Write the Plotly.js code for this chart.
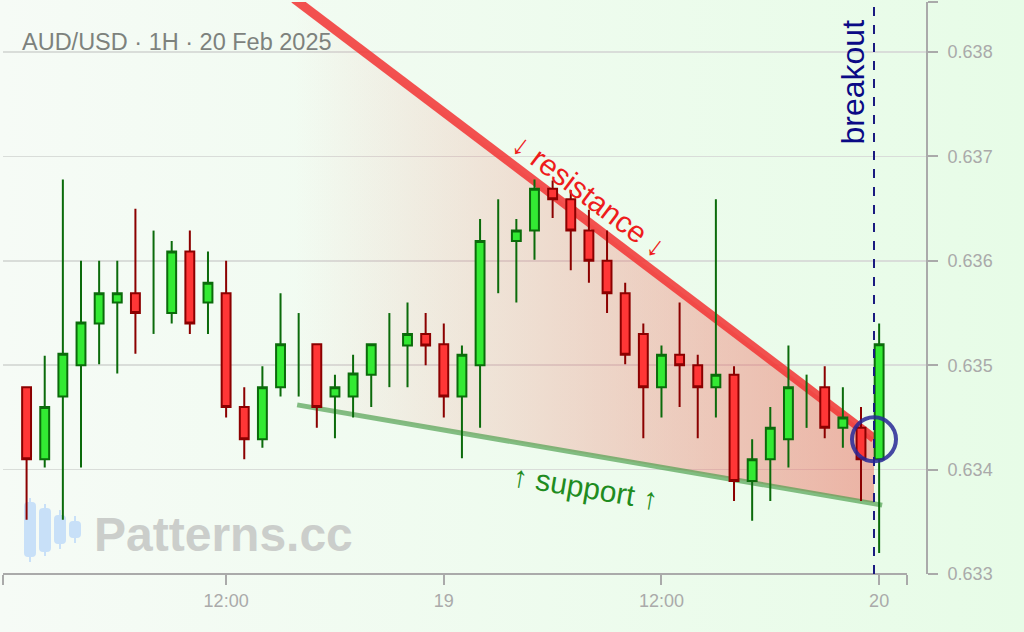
<!DOCTYPE html>
<html>
<head>
<meta charset="utf-8">
<script src="https://cdn.plot.ly/plotly-3.0.1.min.js"></script>
<style>html,body{margin:0;padding:0;background:#f2fbf2;}#chart{width:1024px;height:632px;}</style>
</head>
<body>
<div id="chart"></div>
<script>
// ---- data ----
const times = [
 '2025-02-18 01:00','2025-02-18 02:00','2025-02-18 03:00','2025-02-18 04:00','2025-02-18 05:00','2025-02-18 06:00',
 '2025-02-18 07:00','2025-02-18 08:00','2025-02-18 09:00','2025-02-18 10:00','2025-02-18 11:00','2025-02-18 12:00',
 '2025-02-18 13:00','2025-02-18 14:00','2025-02-18 15:00','2025-02-18 16:00','2025-02-18 17:00','2025-02-18 18:00',
 '2025-02-18 19:00','2025-02-18 20:00','2025-02-18 21:00','2025-02-18 22:00','2025-02-18 23:00','2025-02-19 00:00',
 '2025-02-19 01:00','2025-02-19 02:00','2025-02-19 03:00','2025-02-19 04:00','2025-02-19 05:00','2025-02-19 06:00',
 '2025-02-19 07:00','2025-02-19 08:00','2025-02-19 09:00','2025-02-19 10:00','2025-02-19 11:00','2025-02-19 12:00',
 '2025-02-19 13:00','2025-02-19 14:00','2025-02-19 15:00','2025-02-19 16:00','2025-02-19 17:00','2025-02-19 18:00',
 '2025-02-19 19:00','2025-02-19 20:00','2025-02-19 21:00','2025-02-19 22:00','2025-02-19 23:00','2025-02-20 00:00'
];
const openP = [
 0.63479,0.63410,0.63470,0.63500,0.63540,0.63560,0.63569,0.63580,0.63550,0.63609,0.63560,0.63569,
 0.63460,0.63429,0.63479,0.63510,0.63520,0.63470,0.63470,0.63491,0.63515,0.63519,0.63530,0.63520,
 0.63470,0.63500,0.63614,0.63619,0.63629,0.63669,0.63659,0.63629,0.63600,0.63569,0.63530,0.63479,
 0.63510,0.63500,0.63479,0.63491,0.63389,0.63410,0.63429,0.63465,0.63479,0.63440,0.63440,0.63410
];
const highP = [
 0.63479,0.63509,0.63678,0.63600,0.63600,0.63600,0.63650,0.63629,0.63619,0.63629,0.63609,0.63600,
 0.63479,0.63499,0.63569,0.63550,0.63520,0.63491,0.63510,0.63520,0.63550,0.63560,0.63550,0.63540,
 0.63519,0.63640,0.63659,0.63640,0.63678,0.63677,0.63668,0.63649,0.63629,0.63579,0.63540,0.63519,
 0.63560,0.63510,0.63659,0.63499,0.63429,0.63460,0.63519,0.63491,0.63499,0.63479,0.63460,0.63540
];
const lowP = [
 0.63352,0.63402,0.63352,0.63402,0.63501,0.63492,0.63511,0.63530,0.63540,0.63530,0.63530,0.63450,
 0.63410,0.63421,0.63470,0.63470,0.63440,0.63430,0.63450,0.63460,0.63479,0.63479,0.63500,0.63450,
 0.63411,0.63440,0.63569,0.63560,0.63601,0.63641,0.63591,0.63579,0.63550,0.63501,0.63430,0.63450,
 0.63460,0.63430,0.63450,0.63370,0.63351,0.63370,0.63402,0.63440,0.63430,0.63421,0.63370,0.63320
];
const closeP = [
 0.63410,0.63460,0.63511,0.63541,0.63569,0.63569,0.63550,0.63580,0.63609,0.63540,0.63579,0.63460,
 0.63429,0.63479,0.63520,0.63510,0.63460,0.63479,0.63492,0.63520,0.63515,0.63530,0.63519,0.63470,
 0.63510,0.63619,0.63614,0.63629,0.63669,0.63659,0.63629,0.63600,0.63569,0.63510,0.63479,0.63510,
 0.63500,0.63479,0.63491,0.63389,0.63410,0.63440,0.63479,0.63465,0.63440,0.63450,0.63410,0.63520
];
// pattern lines
const resistanceT = ['2025-02-18 15:45','2025-02-19 23:43'];
const resistanceV = [0.63851, 0.63430];
const supportT = ['2025-02-18 15:55','2025-02-20 00:10'];
const supportV = [0.63462, 0.63366];
const wedgeT = ['2025-02-18 15:45','2025-02-19 23:43','2025-02-19 23:43','2025-02-18 15:55'];
const wedgeV = [0.63851, 0.63430, 0.63368, 0.63462];
const breakoutT = '2025-02-19 23:43';
const breakoutV = 0.63429;
const yTickVals = [0.633,0.634,0.635,0.636,0.637,0.638,0.63848];
const yTickText = ['0.633','0.634','0.635','0.636','0.637','0.638',''];
const xTickVals = ['2025-02-17 23:42','2025-02-18 12:00','2025-02-19 00:00','2025-02-19 12:00','2025-02-20 00:00','2025-02-20 01:32'];
const xTickText = ['','12:00','19','12:00','20',''];
const xRange = ['2025-02-17 23:42','2025-02-20 02:35'];
const yRange = [0.633, 0.63848];
const titleText = 'AUD/USD · 1H · 20 Feb 2025';

// ---- traces ----
const isDoji = openP.map((o,i)=>o===closeP[i]);
const keep = (arr)=>arr.filter((_,i)=>!isDoji[i]);
const dojiX = [], dojiY = [];
times.forEach((t,i)=>{ if(isDoji[i]){ dojiX.push(t,t,null); dojiY.push(lowP[i],highP[i],null);} });

const FONT = 'Liberation Sans, Arial, sans-serif';
const traces = [
 {type:'scatter', mode:'none', x:wedgeT, y:wedgeV, fill:'toself',
  fillgradient:{type:'horizontal', colorscale:[[0,'rgba(238,90,80,0)'],[1,'rgba(238,90,80,0.45)']]},
  hoverinfo:'skip', showlegend:false},
 {type:'scatter', mode:'lines', x:supportT, y:supportV,
  line:{color:'rgba(70,155,70,0.65)', width:5}, hoverinfo:'skip', showlegend:false},
 {type:'scatter', mode:'lines', x:resistanceT, y:resistanceV,
  line:{color:'rgba(242,50,50,0.85)', width:9}, hoverinfo:'skip', showlegend:false},
 {type:'candlestick', xaxis:'x2', yaxis:'y2',
  x:keep(times), open:keep(openP), high:keep(highP), low:keep(lowP), close:keep(closeP),
  increasing:{line:{color:'#0b6b0b', width:2}, fillcolor:'#33ea33'},
  decreasing:{line:{color:'#8b0000', width:2}, fillcolor:'#ff3636'},
  hoverinfo:'skip', showlegend:false},
 {type:'scatter', mode:'lines', xaxis:'x2', yaxis:'y2', x:dojiX, y:dojiY, line:{color:'#0b6b0b', width:2},
  hoverinfo:'skip', showlegend:false, connectgaps:false}
];

// background gradient + watermark icon
const bgSvg = "<svg xmlns='http://www.w3.org/2000/svg' width='1024' height='632' viewBox='0 0 1024 632' preserveAspectRatio='none'>"+
 "<defs><linearGradient id='g' x1='0' x2='1' y1='0' y2='0'><stop offset='0' stop-color='#f6fbf6'/><stop offset='1' stop-color='#e7fce7'/></linearGradient></defs>"+
 "<rect width='1024' height='632' fill='url(#g)'/>"+
 "<g fill='#c8e0f8' stroke='#c8e0f8' stroke-width='2'>"+
 "<line x1='30' y1='498' x2='30' y2='562'/><rect x='25' y='503' width='10' height='53' rx='3'/>"+
 "<line x1='45' y1='504' x2='45' y2='556'/><rect x='40' y='509' width='10' height='42' rx='3'/>"+
 "<line x1='60' y1='510' x2='60' y2='549'/><rect x='55' y='516' width='10' height='27' rx='3'/>"+
 "<line x1='75' y1='516' x2='75' y2='543'/><rect x='70' y='522' width='10' height='15' rx='3'/>"+
 "</g></svg>";
const bgUri = 'data:image/svg+xml;charset=utf-8,' + encodeURIComponent(bgSvg);

const L=3, R=98, T=2, B=58, W=1024-L-R, H=632-T-B;
const layout = {
 width:1024, height:632,
 margin:{l:L, r:R, t:T, b:B, pad:0},
 paper_bgcolor:'#f2fbf2', plot_bgcolor:'rgba(0,0,0,0)',
 showlegend:false, hovermode:false,
 font:{family:FONT, color:'#aaaaaa', size:18},
 xaxis:{type:'date', range:xRange,
  rangeslider:{visible:false}, showgrid:false, zeroline:false, showline:false,
  tickmode:'array', tickvals:xTickVals, ticktext:xTickText,
  ticks:'outside', ticklen:10, tickwidth:2, tickcolor:'#aaaaaa',
  tickfont:{family:FONT, size:18, color:'#aaaaaa'}},
 yaxis:{range:yRange, side:'right', showline:true, linecolor:'#aaaaaa', linewidth:2,
  zeroline:false, showgrid:true, gridcolor:'#d9ddd9', gridwidth:1.5,
  tickmode:'array', tickvals:yTickVals, ticktext:yTickText,
  ticks:'outside', ticklen:10, tickwidth:2, tickcolor:'#aaaaaa', ticklabelstandoff:6,
  tickfont:{family:FONT, size:18, color:'#aaaaaa'}},
 xaxis2:{type:'date', range:xRange, overlaying:'x', visible:false, rangeslider:{visible:false}, showgrid:false, zeroline:false},
 yaxis2:{range:yRange, overlaying:'y', visible:false, showgrid:false, zeroline:false},
 images:[{source:bgUri, xref:'paper', yref:'paper', x:-L/W, y:1+T/H, sizex:1024/W, sizey:632/H,
  sizing:'stretch', xanchor:'left', yanchor:'top', layer:'below'}],
 shapes:[
  {type:'line', xref:'paper', yref:'paper', x0:0, x1:(907-L)/W, y0:0, y1:0, line:{color:'#aaaaaa', width:2}},
  {type:'line', xref:'x', yref:'paper', x0:breakoutT, x1:breakoutT, y0:0, y1:1, line:{color:'#1a1a80', width:2, dash:'dash'}},
  {type:'circle', xref:'x', yref:'y', xsizemode:'pixel', ysizemode:'pixel', xanchor:breakoutT, yanchor:breakoutV,
   x0:-22, x1:22, y0:-22, y1:22, line:{color:'rgba(40,40,150,0.85)', width:4}}
 ],
 annotations:[
  {text:titleText, xref:'paper', yref:'paper', x:(20-L)/W, y:(574-42)/H, xanchor:'left', yanchor:'middle',
   showarrow:false, font:{family:FONT, size:23.5, color:'#7d827d'}},
  {text:'Patterns.cc', xref:'paper', yref:'paper', x:(92-L)/W, y:(574-534)/H, xanchor:'left', yanchor:'middle',
   showarrow:false, font:{family:FONT, size:48, color:'#cbcecb', weight:700}},
  {text:'↓ resistance ↓', xref:'x', yref:'y', x:'2025-02-19 08:02', y:0.63663, textangle:37,
   showarrow:false, font:{family:FONT, size:30, color:'#ee1c1c'}},
  {text:'↑ support ↑', xref:'x', yref:'y', x:'2025-02-19 07:49', y:0.63383, textangle:9.5,
   showarrow:false, font:{family:FONT, size:30, color:'#1f8c1f'}},
  {text:'breakout', xref:'x', yref:'y', x:'2025-02-19 22:34', y:0.63771, textangle:-90,
   showarrow:false, font:{family:FONT, size:32, color:'#0a0a85'}}
 ]
};
Plotly.newPlot('chart', traces, layout, {displayModeBar:false, staticPlot:true});
</script>
</body>
</html>
